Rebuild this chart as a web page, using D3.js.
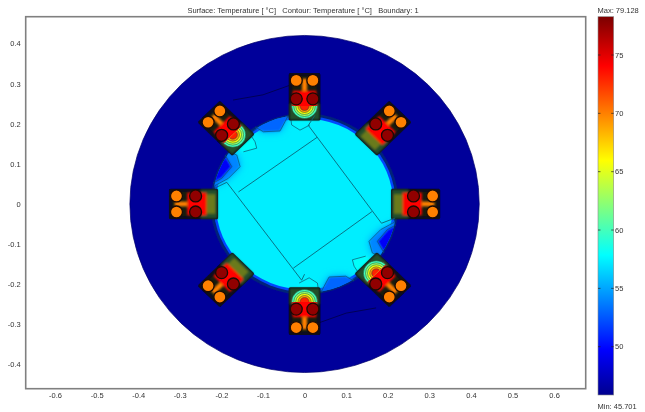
<!DOCTYPE html>
<html>
<head>
<meta charset="utf-8">
<title>Surface temperature</title>
<script src="https://d3js.org/d3.v7.min.js"></script>
<style>
  html, body { margin: 0; padding: 0; background: #fff; }
  svg { display: block; filter: blur(0.4px); font-family: "Liberation Sans", sans-serif; }
  text { fill: #333; font-size: 7.5px; white-space: pre; }
</style>
</head>
<body>
<div id="visualization"></div>
<script>
// values (lengths in the plot's units, temperatures in deg C)
var xTicks = [-0.6, -0.5, -0.4, -0.3, -0.2, -0.1, 0, 0.1, 0.2, 0.3, 0.4, 0.5, 0.6];
var yTicks = [-0.4, -0.3, -0.2, -0.1, 0, 0.1, 0.2, 0.3, 0.4];
var barTicks = [50, 55, 60, 65, 70, 75];
var titleText = "Surface: Temperature [ °C]   Contour: Temperature [ °C]   Boundary: 1";
var maxText = "Max: 79.128";
var minText = "Min: 45.701";

var statorRadius = 0.42, statorTemp = 46.1;
var gapRadius = 0.222, gapTemp = 52;
var rotorRadius = 0.213, rotorTemp = 57.3;

var slotAngles = [90, 135, 180, 225, 270, 315, 0, 45];
var slotMouth = [true, true, false, false, true, true, false, false];
var slotR = [0.212, 0.322], slotHalf = 0.034;
var arcCentre = 0.244;
var arcRadii = [0.031, 0.026, 0.021, 0.016, 0.011];
var arcTemps = [60, 62.5, 65.5, 69, 73];
// conductors in slot coordinates: radius, offset, temperature
var wires = [[0.308, -0.02, 70], [0.308, 0.02, 70], [0.262, -0.02, 77.6], [0.262, 0.02, 77.6]];

// blue and green patches of the rotor, the opposite ones are the same turned half round
var patches = [
  {t: 54, pts: [[-0.183,0.130],[-0.163,0.122],[-0.155,0.093],[-0.183,0.064],[-0.215,0.046],[-0.24,0.06],[-0.2,0.15]]},
  {t: 49.5, pts: [[-0.191,0.122],[-0.175,0.093],[-0.199,0.064],[-0.22,0.052],[-0.24,0.06],[-0.2,0.14]]},
  {t: 53, pts: [[-0.119,0.192],[-0.099,0.180],[-0.059,0.182],[-0.047,0.205],[-0.039,0.221],[-0.039,0.24],[-0.119,0.22]]},
  {t: 58, pts: [[-0.135,0.180],[-0.119,0.155],[-0.115,0.139],[-0.147,0.130],[-0.167,0.143],[-0.16,0.19]]},
  {t: 57.5, pts: [[-0.035,0.226],[-0.031,0.197],[-0.011,0.184],[0.013,0.197],[0.02,0.22],[0,0.235]]}
];
var statorContour = [[-0.172,0.259],[-0.1,0.272],[-0.035,0.296]];
var frameLines = [
  [[-0.187,0.054],[-0.007,-0.19],[0.0,-0.175]],
  [[0.009,0.196],[0.185,-0.048],[0.218,-0.035]],
  [[-0.187,0.054],[-0.215,0.04]],
  [[0.009,0.196],[0.025,0.221]],
  [[-0.159,0.03],[0.03,0.166]],
  [[-0.027,-0.16],[0.162,-0.019]]
];

var width = 645, height = 412;
var plot = {left: 25.7, right: 585.7, top: 16.7, bottom: 388.7};
var bar = {left: 598, right: 613.7, top: 16.7, bottom: 395};

var x = d3.scaleLinear().domain([-0.6705, 0.676]).range([plot.left, plot.right]);
var y = d3.scaleLinear().domain([-0.4603, 0.4667]).range([plot.bottom, plot.top]);
var barY = d3.scaleLinear().domain([50, 75]).range([346.7, 55]);

var heat = d3.scaleLinear()
  .domain([45.7, 49.75, 57.85, 65.96, 74.07, 78.13])
  .range(["#00008f", "#0000ff", "#00ffff", "#ffff00", "#ff0000", "#800000"]);

var line = d3.line().x(function (d) { return x(d[0]); }).y(function (d) { return y(d[1]); });
var closedPath = function (pts) { return line(pts) + "Z"; };

// slot coordinates to plot coordinates
function turn(r, t, angle) {
  var a = angle * Math.PI / 180;
  return [r * Math.cos(a) - t * Math.sin(a), r * Math.sin(a) + t * Math.cos(a)];
}
function slotBox(angle, r0, r1, half) {
  return [turn(r0, -half, angle), turn(r1, -half, angle), turn(r1, half, angle), turn(r0, half, angle)];
}
function opposite(pts) {
  return pts.map(function (p) { return [-p[0], -p[1]]; });
}

var svg = d3.select("#visualization").append("svg").attr("width", width).attr("height", height);
var defs = svg.append("defs");
[["soft", 0.7], ["mid", 1.3], ["wide", 4.5]].forEach(function (f) {
  defs.append("filter").attr("id", f[0])
    .attr("x", "-40%").attr("y", "-40%").attr("width", "180%").attr("height", "180%")
    .append("feGaussianBlur").attr("stdDeviation", f[1]);
});

// colour bar gradient
var gradient = defs.append("linearGradient").attr("id", "barFill")
  .attr("x1", 0).attr("y1", 0).attr("x2", 0).attr("y2", 1);
heat.domain().slice().reverse().forEach(function (t) {
  gradient.append("stop")
    .attr("offset", (barY(t) - bar.top) / (bar.bottom - bar.top))
    .attr("stop-color", heat(t));
});

// frame
svg.append("rect")
  .attr("x", plot.left).attr("y", plot.top)
  .attr("width", plot.right - plot.left).attr("height", plot.bottom - plot.top)
  .attr("fill", "#fff").attr("stroke", "#808080").attr("stroke-width", 1.6);

// discs
function disc(g, r) {
  return g.append("ellipse")
    .attr("cx", x(0)).attr("cy", y(0))
    .attr("rx", x(r) - x(0)).attr("ry", y(0) - y(r));
}
disc(svg, statorRadius).attr("fill", heat(statorTemp)).attr("stroke", "#00006a").attr("stroke-width", 0.7);

defs.append("clipPath").attr("id", "gapClip").call(function (c) { disc(c, gapRadius); });

var field = svg.append("g");
disc(field, gapRadius + 0.004).attr("fill", "#00207a").attr("filter", "url(#soft)");
disc(field, gapRadius - 0.003).attr("fill", heat(gapTemp)).attr("filter", "url(#soft)");
disc(field, rotorRadius).attr("fill", heat(rotorTemp)).attr("filter", "url(#soft)");

var allPatches = [];
patches.forEach(function (p) {
  allPatches.push({t: p.t, pts: p.pts});
  allPatches.push({t: p.t, pts: opposite(p.pts)});
});
var patchArea = field.append("g").attr("clip-path", "url(#gapClip)");
patchArea.append("g").attr("filter", "url(#wide)")
  .selectAll("path").data(allPatches.filter(function (d) { return d.t < 56; })).enter().append("path")
  .attr("d", function (d) { return closedPath(d.pts); })
  .attr("fill", heat(54.5));
patchArea.append("g").attr("filter", "url(#mid)")
  .selectAll("path").data(allPatches).enter().append("path")
  .attr("d", function (d) { return closedPath(d.pts); })
  .attr("fill", function (d) { return heat(d.t); });

// contour lines of the patches
var contours = svg.append("g").attr("fill", "none").attr("stroke", "#0a5570").attr("stroke-width", 0.7);
contours.selectAll("path").data(allPatches).enter().append("path")
  .attr("d", function (d) { return line(d.pts.slice(0, -2)); });
contours.selectAll("path.stator").data([statorContour, opposite(statorContour)]).enter().append("path")
  .attr("class", "stator").attr("stroke", "#00003a")
  .attr("d", line);

// slots
slotAngles.forEach(function (angle, i) {
  var id = "slot" + i;
  defs.append("clipPath").attr("id", id).append("path")
    .attr("d", closedPath(slotBox(angle, 0.205, 0.244, slotHalf + 0.002)));

  var g = svg.append("g");
  g.append("path")
    .attr("d", closedPath(slotBox(angle, slotR[0], slotR[1], slotHalf)))
    .attr("fill", "#151a0e").attr("stroke", "#0a0a1c").attr("stroke-width", 3.4)
    .attr("stroke-linejoin", "round").attr("filter", "url(#soft)");

  var hot = g.append("g").attr("filter", "url(#mid)");
  hot.append("path")
    .attr("d", closedPath(slotBox(angle, 0.21, 0.25, slotHalf + 0.002)))
    .attr("fill", "#24502a");
  hot.append("path")
    .attr("d", closedPath(slotBox(angle, 0.215, 0.24, 0.024)))
    .attr("fill", slotMouth[i] ? "#24502a" : "#6a7a1c");
  hot.append("path")
    .attr("d", closedPath(slotBox(angle, 0.236, 0.282, 0.028)))
    .attr("fill", heat(74));
  hot.append("path")
    .attr("d", closedPath(slotBox(angle, 0.282, 0.312, 0.006)))
    .attr("fill", heat(70));

  if (slotMouth[i]) {
    var core = turn(arcCentre, 0, angle);
    g.append("g").attr("clip-path", "url(#" + id + ")")
      .selectAll("ellipse").data(arcRadii).enter().append("ellipse")
      .attr("cx", x(core[0])).attr("cy", y(core[1]))
      .attr("rx", function (d) { return x(d) - x(0); })
      .attr("ry", function (d) { return y(0) - y(d); })
      .attr("fill", function (d, j) { return heat(arcTemps[j]); })
      .attr("stroke", "#1c4a38").attr("stroke-width", 0.5);
  }

  g.selectAll("circle").data(wires).enter().append("circle")
    .attr("cx", function (d) { return x(turn(d[0], d[1], angle)[0]); })
    .attr("cy", function (d) { return y(turn(d[0], d[1], angle)[1]); })
    .attr("r", 6)
    .attr("fill", function (d) { return heat(d[2]); })
    .attr("stroke", "#1c0a04").attr("stroke-width", 1.3);
});

// rotor outline and core
svg.append("g").attr("fill", "none").attr("stroke", "#0a6478").attr("stroke-width", 0.9)
  .selectAll("path").data(frameLines).enter().append("path").attr("d", line);

// axes
var xAxis = d3.axisBottom(x).tickValues(xTicks).tickSize(0).tickPadding(4)
  .tickFormat(function (d) { return String(d); });
var yAxis = d3.axisLeft(y).tickValues(yTicks).tickSize(0).tickPadding(5)
  .tickFormat(function (d) { return String(d); });
svg.append("g").attr("transform", "translate(0," + plot.bottom + ")").call(xAxis)
  .call(function (g) { g.select(".domain").remove(); });
svg.append("g").attr("transform", "translate(" + plot.left + ",0)").call(yAxis)
  .call(function (g) { g.select(".domain").remove(); });
svg.selectAll(".tick text").style("font-size", "7.5px").style("font-family", "inherit");

svg.append("text").attr("x", 303).attr("y", 13).attr("text-anchor", "middle").text(titleText);

// colour bar
svg.append("rect")
  .attr("x", bar.left).attr("y", bar.top)
  .attr("width", bar.right - bar.left).attr("height", bar.bottom - bar.top)
  .attr("fill", "url(#barFill)").attr("stroke", "#8a8a8a").attr("stroke-width", 0.6);
var barTick = svg.selectAll("g.barTick").data(barTicks).enter().append("g").attr("class", "barTick")
  .attr("transform", function (d) { return "translate(0," + barY(d) + ")"; });
barTick.append("line").attr("x1", bar.left).attr("x2", bar.left + 2.5).attr("stroke", "#222").attr("stroke-width", 0.7);
barTick.append("line").attr("x1", bar.right - 2.5).attr("x2", bar.right).attr("stroke", "#222").attr("stroke-width", 0.7);
barTick.append("text").attr("x", 615).attr("dy", "0.35em").text(function (d) { return d; });

svg.append("text").attr("x", 597.5).attr("y", 13).text(maxText);
svg.append("text").attr("x", 597.5).attr("y", 409).text(minText);
</script>
</body>
</html>
